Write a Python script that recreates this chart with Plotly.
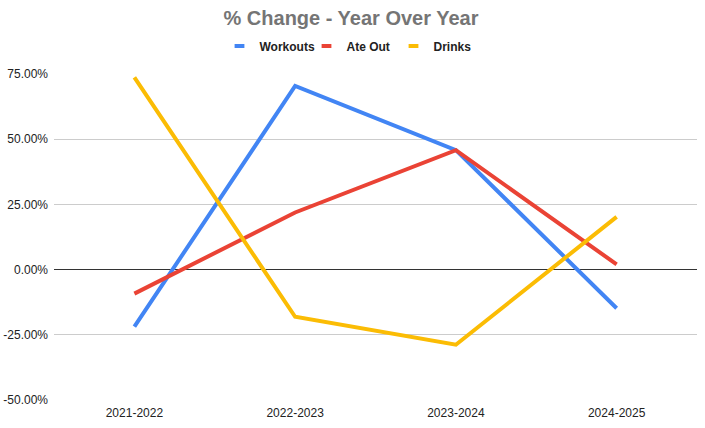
import plotly.graph_objects as go

categories = ["2021-2022", "2022-2023", "2023-2024", "2024-2025"]
workouts = [-21.9, 70.4, 45.8, -14.8]
ate_out = [-9.2, 21.9, 45.8, 2.0]
drinks = [73.7, -18.1, -28.8, 20.2]
y_ticks = [-50, -25, 0, 25, 50, 75]
y_tick_text = ["%.2f%%" % v for v in y_ticks]

series = [("Workouts", workouts, "#4285F4"),
          ("Ate Out", ate_out, "#EA4335"),
          ("Drinks", drinks, "#FBBC04")]

FONT = "Liberation Sans, Arial, sans-serif"
W, H = 705, 428

fig = go.Figure()
for name, vals, color in series:
    fig.add_trace(go.Scatter(x=categories, y=vals, mode="lines", name=name,
                             line=dict(color=color, width=4),
                             showlegend=False, hoverinfo="skip"))
for name, vals, color in series:
    fig.add_trace(go.Scatter(x=[None], y=[None], mode="markers", name=name,
                             marker=dict(symbol="line-ew-open", size=7, color=color,
                                         line=dict(color=color, width=4))))

fig.update_layout(
    width=W, height=H,
    margin=dict(l=54, r=8, t=74, b=28, autoexpand=False),
    paper_bgcolor="white", plot_bgcolor="white",
    title=dict(text="<b>% Change - Year Over Year</b>", xref="container",
               x=351 / W, xanchor="center",
               y=1 - 18 / H, yanchor="middle",
               font=dict(family=FONT, size=20, color="#757575")),
    legend=dict(orientation="h", xref="container", x=350 / W, xanchor="center",
                yref="container", y=1 - 46 / H, yanchor="middle",
                font=dict(family=FONT, size=12, color="#222222", weight="bold"),
                itemwidth=30, traceorder="normal", entrywidth=42),
    font=dict(family=FONT, color="#222222"),
    xaxis=dict(type="category", range=[-0.5, 3.5], showgrid=False,
               showline=False, ticks="", ticklabelstandoff=4,
               tickfont=dict(size=12, color="#222222")),
    yaxis=dict(range=[-50, 75], tickvals=y_ticks, ticktext=y_tick_text,
               showgrid=True, gridcolor="#cccccc", gridwidth=1,
               zeroline=True, zerolinecolor="#333333", zerolinewidth=1,
               ticks="", ticklabelstandoff=5,
               tickfont=dict(size=12, color="#222222")),
)
fig.write_html("out.html", config={"displayModeBar": False},
               post_script="document.body.style.margin='0';document.body.style.padding='0';")
